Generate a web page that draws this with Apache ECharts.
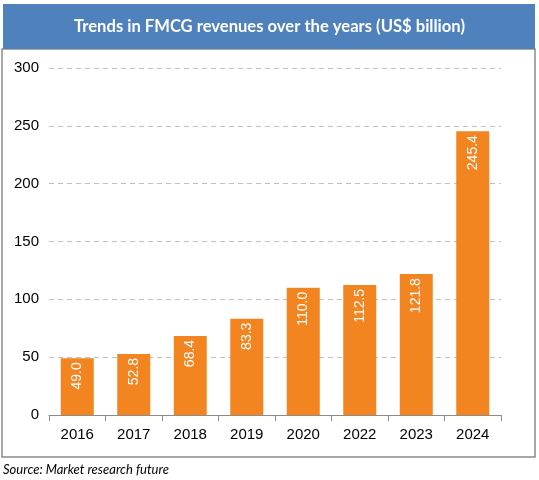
<!DOCTYPE html>
<html><head><meta charset="utf-8">
<script src="https://cdn.jsdelivr.net/npm/echarts@6/dist/echarts.min.js"></script>
<style>html,body{margin:0;padding:0;background:#fff}#c{width:539px;height:480px}</style>
</head><body><div id="c"></div>
<script>
const categories = ['2016','2017','2018','2019','2020','2022','2023','2024'];
const revenues = [49.0, 52.8, 68.4, 83.3, 110.0, 112.5, 121.8, 245.4];
const yTicks = [0, 50, 100, 150, 200, 250, 300];
const titleText = 'Trends in FMCG revenues over the years (US$ billion)';
const sourceText = 'Source: Market research future';

const chart = echarts.init(document.getElementById('c'), null, {renderer:'canvas'});
chart.setOption({
  animation: false,
  backgroundColor: '#ffffff',
  graphic: [
    {type:'rect', shape:{x:2, y:49, width:533, height:408}, style:{fill:'#ffffff', stroke:'#8c8c8c', lineWidth:1.5}, z:-10},
    {type:'rect', shape:{x:3, y:4, width:532, height:45}, style:{fill:'#4f81bd'}, z:-5},
    {type:'text', left:3, top:463, style:{text:sourceText, font:'italic 13px Lato', fill:'#000000'}}
  ],
  title: {
    text: titleText,
    left: 'center',
    top: 13,
    textStyle: {color:'#ffffff', fontFamily:'Lato', fontWeight:'bold', fontSize:16.6}
  },
  grid: {left:49, right:38, top:68, bottom:65, containLabel:false},
  xAxis: {
    type:'category',
    data: categories,
    axisLine:{lineStyle:{color:'#8c8c8c', width:1}},
    axisTick:{show:true, alignWithLabel:false, length:6, lineStyle:{color:'#8c8c8c'}},
    axisLabel:{color:'#000000', fontFamily:'Arial', fontSize:15, margin:12}
  },
  yAxis: {
    type:'value',
    min: yTicks[0], max: yTicks[yTicks.length-1], interval: 50,
    axisLine:{show:false}, axisTick:{show:false},
    axisLabel:{color:'#000000', fontFamily:'Arial', fontSize:15, margin:10},
    splitLine:{lineStyle:{color:'#c0c0c0', type:[5,4], width:1}}
  },
  series: [{
    type:'bar',
    data: revenues,
    barWidth: 33,
    itemStyle:{color:'#f38521'},
    label:{
      show:true, position:'insideTop', rotate:90, align:'right', verticalAlign:'middle',
      distance:4, color:'#ffffff', fontFamily:'Arial', fontSize:14,
      formatter: p => p.value.toFixed(1)
    }
  }]
});
</script></body></html>
